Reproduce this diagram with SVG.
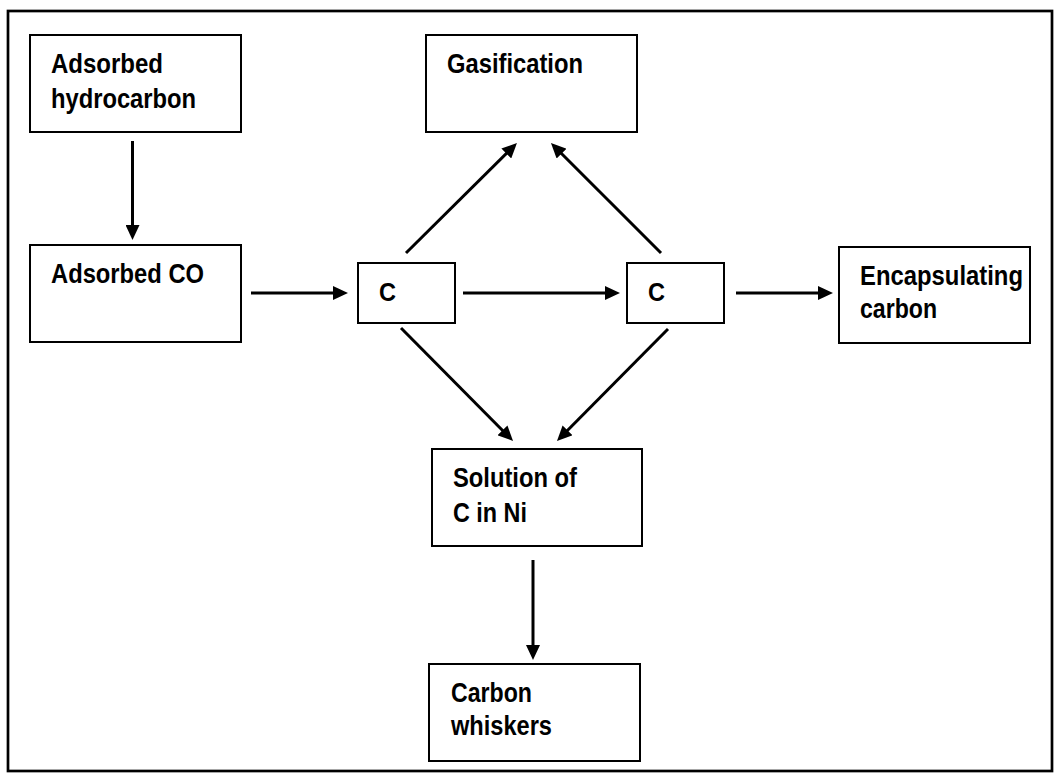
<svg xmlns="http://www.w3.org/2000/svg" width="1060" height="778" viewBox="0 0 1060 778">
<style>
.box{fill:#fff;stroke:#000;stroke-width:2}
.frame{fill:none;stroke:#000;stroke-width:2.7}
.lbl{font-family:"Liberation Sans",Arial,sans-serif;font-weight:bold;font-size:28px;fill:#000}
.c{font-size:26px}
.arr{fill:none;stroke:#000;stroke-width:3;marker-end:url(#ah)}
</style>
<defs>
<marker id="ah" markerUnits="userSpaceOnUse" markerWidth="15" markerHeight="14" refX="9" refY="7" orient="auto">
<path d="M0,0 L15,7 L0,14 z" fill="#000"/>
</marker>
</defs>
<rect x="0" y="0" width="1060" height="778" fill="#fff"/>
<rect class="frame" x="8" y="11" width="1044" height="760"/>
<g id="n-hydrocarbon">
<rect class="box" x="30" y="35" width="211" height="97"/>
<text class="lbl" x="51" y="73" textLength="112" lengthAdjust="spacingAndGlyphs">Adsorbed</text>
<text class="lbl" x="51" y="108" textLength="145" lengthAdjust="spacingAndGlyphs">hydrocarbon</text>
</g>
<g id="n-co">
<rect class="box" x="30" y="245" width="211" height="97"/>
<text class="lbl" x="51" y="283" textLength="153" lengthAdjust="spacingAndGlyphs">Adsorbed CO</text>
</g>
<g id="n-c1">
<rect class="box" x="358" y="263" width="97" height="60"/>
<text class="lbl c" x="379" y="301" textLength="17" lengthAdjust="spacingAndGlyphs">C</text>
</g>
<g id="n-c2">
<rect class="box" x="627" y="263" width="97" height="60"/>
<text class="lbl c" x="648" y="301" textLength="17" lengthAdjust="spacingAndGlyphs">C</text>
</g>
<g id="n-gas">
<rect class="box" x="426" y="35" width="211" height="97"/>
<text class="lbl" x="447" y="73" textLength="136" lengthAdjust="spacingAndGlyphs">Gasification</text>
</g>
<g id="n-encap">
<rect class="box" x="839" y="247" width="191" height="96"/>
<text class="lbl" x="860" y="285" textLength="163" lengthAdjust="spacingAndGlyphs">Encapsulating</text>
<text class="lbl" x="860" y="318" textLength="77" lengthAdjust="spacingAndGlyphs">carbon</text>
</g>
<g id="n-solution">
<rect class="box" x="432" y="449" width="210" height="97"/>
<text class="lbl" x="453" y="487" textLength="124" lengthAdjust="spacingAndGlyphs">Solution of</text>
<text class="lbl" x="453" y="522" textLength="74" lengthAdjust="spacingAndGlyphs">C in Ni</text>
</g>
<g id="n-whiskers">
<rect class="box" x="429" y="664" width="211" height="97"/>
<text class="lbl" x="451" y="702" textLength="81" lengthAdjust="spacingAndGlyphs">Carbon</text>
<text class="lbl" x="451" y="735" textLength="101" lengthAdjust="spacingAndGlyphs">whiskers</text>
</g>
<g id="connectors">
<path class="arr" d="M132.5,141 L132.5,234"/>
<path class="arr" d="M251,293 L342,293"/>
<path class="arr" d="M463,293 L614,293"/>
<path class="arr" d="M736,293 L827,293"/>
<path class="arr" d="M406,253 L512.7,147.2"/>
<path class="arr" d="M661,253 L555.2,147.2"/>
<path class="arr" d="M401,328 L508.8,436.7"/>
<path class="arr" d="M668,329 L561.2,436.7"/>
<path class="arr" d="M533,560 L533,654"/>
</g>
</svg>
